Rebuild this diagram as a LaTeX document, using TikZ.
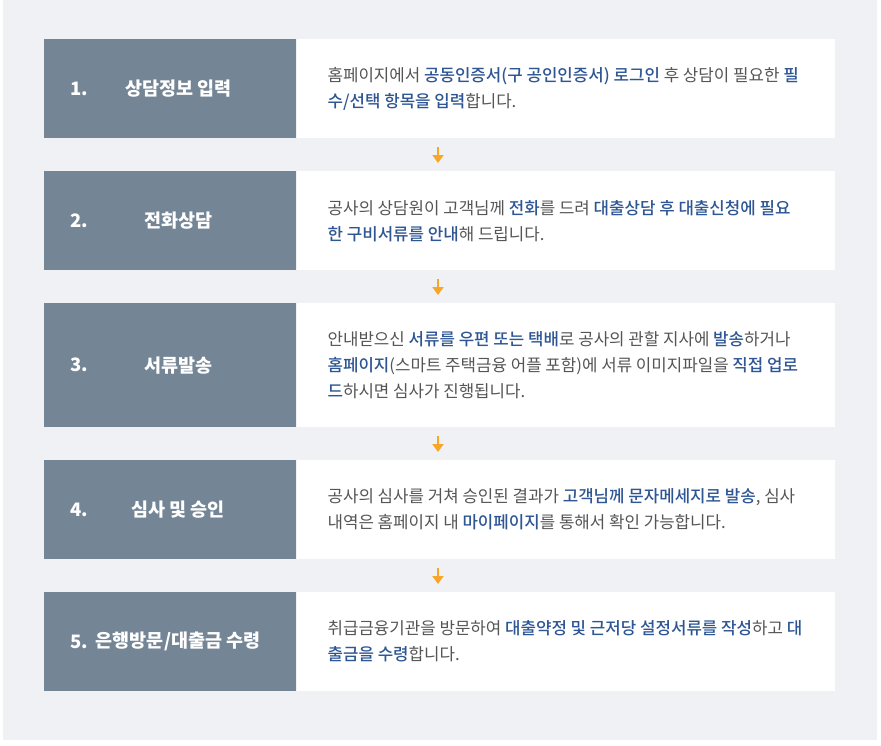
\documentclass[tikz,border=0pt]{standalone}
\usepackage{fontspec}
\setmainfont{Noto Sans CJK KR}[BoldFont={Noto Sans CJK KR Medium}]
\newfontfamily\headfont{Noto Sans CJK KR}
\usetikzlibrary{arrows.meta, positioning}
\definecolor{pageGray}{RGB}{240, 241, 245}
\definecolor{stepSlate}{RGB}{116, 133, 150}
\definecolor{bodyGray}{RGB}{85, 85, 85}
\definecolor{keyBlue}{RGB}{46, 86, 148}
\definecolor{flowOrange}{RGB}{247, 166, 40}
\newcommand{\kw}[1]{\textcolor{keyBlue}{\textbf{#1}}}
\tikzset{
    stepbox/.style={fill=stepSlate, minimum width=252pt, inner sep=0pt, anchor=north west},
    descbox/.style={fill=white, minimum width=538pt, inner sep=0pt},
    stepnum/.style={text=white, font=\headfont\fontsize{18.5}{22}\selectfont\bfseries, inner sep=0pt, anchor=west},
    steplabel/.style={text=white, font=\headfont\fontsize{18.5}{22}\selectfont\bfseries, inner sep=0pt},
    desctext/.style={text=bodyGray, font=\fontsize{16.8}{26}\selectfont, align=left, inner sep=0pt, anchor=west},
    flow/.style={draw=flowOrange, line width=2pt, -{Triangle[width=11pt, length=8pt]}, shorten <=9pt, shorten >=8pt}
}

\begin{document}
\begin{tikzpicture}
    \useasboundingbox (0pt,0pt) rectangle (881pt,-745pt);
    \fill[pageGray] (3pt,0pt) rectangle (877pt,-740pt);
    \coordinate (ax) at (438pt,0pt);

    % step 1
    \node[stepbox, minimum height=99pt] (s1) at (44pt,-39pt) {};
    \node[descbox, minimum height=99pt, right=0pt of s1] (d1) {};
    \node[stepnum, right=26pt of s1.west] (n1) {1.};
    \node[steplabel] (l1) at ([xshift=8pt]s1.center) {상담정보 입력};
    \node[desctext, right=31pt of s1.east] (t1) {홈페이지에서 \kw{공동인증서(구 공인인증서) 로그인} 후 상담이 필요한 \kw{필}\\
        \kw{수/선택 항목을 입력}합니다.};

    % step 2
    \node[stepbox, minimum height=99pt] (s2) at (44pt,-171pt) {};
    \node[descbox, minimum height=99pt, right=0pt of s2] (d2) {};
    \node[stepnum, right=26pt of s2.west] (n2) {2.};
    \node[steplabel] (l2) at ([xshift=8pt]s2.center) {전화상담};
    \node[desctext, right=31pt of s2.east] (t2) {공사의 상담원이 고객님께 \kw{전화}를 드려 \kw{대출상담 후 대출신청에 필요}\\
        \kw{한 구비서류를 안내}해 드립니다.};

    % step 3
    \node[stepbox, minimum height=124pt] (s3) at (44pt,-303pt) {};
    \node[descbox, minimum height=124pt, right=0pt of s3] (d3) {};
    \node[stepnum, right=26pt of s3.west] (n3) {3.};
    \node[steplabel] (l3) at ([xshift=8pt]s3.center) {서류발송};
    \node[desctext, right=31pt of s3.east] (t3) {안내받으신 \kw{서류를 우편 또는 택배}로 공사의 관할 지사에 \kw{발송}하거나\\
        \kw{홈페이지}(스마트 주택금융 어플 포함)에 서류 이미지파일을 \kw{직접 업로}\\
        \kw{드}하시면 심사가 진행됩니다.};

    % step 4
    \node[stepbox, minimum height=99pt] (s4) at (44pt,-460pt) {};
    \node[descbox, minimum height=99pt, right=0pt of s4] (d4) {};
    \node[stepnum, right=26pt of s4.west] (n4) {4.};
    \node[steplabel] (l4) at ([xshift=8pt]s4.center) {심사 및 승인};
    \node[desctext, right=31pt of s4.east] (t4) {공사의 심사를 거쳐 승인된 결과가 \kw{고객님께 문자메세지로 발송}, 심사\\
        내역은 홈페이지 내 \kw{마이페이지}를 통해서 확인 가능합니다.};

    % step 5
    \node[stepbox, minimum height=99pt] (s5) at (44pt,-592pt) {};
    \node[descbox, minimum height=99pt, right=0pt of s5] (d5) {};
    \node[stepnum, right=26pt of s5.west] (n5) {5.};
    \node[steplabel] (l5) at ([xshift=8pt]s5.center) {은행방문/대출금 수령};
    \node[desctext, right=31pt of s5.east] (t5) {취급금융기관을 방문하여 \kw{대출약정 및 근저당 설정서류를 작성}하고 \kw{대}\\
        \kw{출금을 수령}합니다.};

    % arrows between steps
    \draw[flow] (d1.south -| ax) -- (d2.north -| ax);
    \draw[flow] (d2.south -| ax) -- (d3.north -| ax);
    \draw[flow] (d3.south -| ax) -- (d4.north -| ax);
    \draw[flow] (d4.south -| ax) -- (d5.north -| ax);
\end{tikzpicture}
\end{document}
